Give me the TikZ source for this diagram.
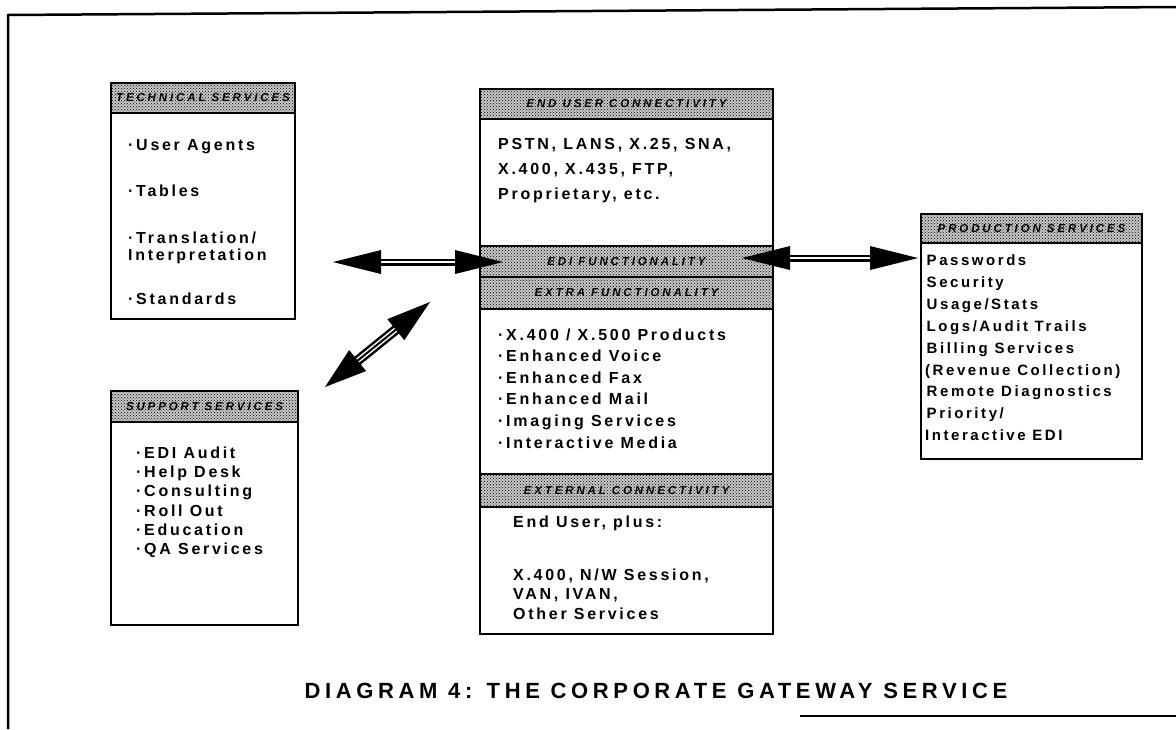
\documentclass[tikz,border=0pt]{standalone}
\usepackage{fontspec}
\setmainfont{Liberation Sans}
\newfontfamily\bodyfont[LetterSpace=17]{Liberation Sans}
\newfontfamily\hdrfont[LetterSpace=25]{Liberation Sans}
\newfontfamily\titlefont[LetterSpace=21]{Liberation Sans}
\usetikzlibrary{patterns,calc}

\tikzset{
  frameline/.style={line width=2.5pt},
  hdr/.style={draw, line width=2pt, fill=black!22, postaction={pattern=crosshatch dots},
    anchor=north west, inner sep=0pt,
    font=\hdrfont\bfseries\itshape\fontsize{11.5}{11.5}\selectfont},
  bodybox/.style={draw, line width=2pt, anchor=north west, inner sep=0pt},
  item/.style={anchor=base west, inner sep=0pt, font=\bodyfont\bfseries\fontsize{16}{16}\selectfont},
  pitem/.style={item, font=\bodyfont\bfseries\fontsize{15}{15}\selectfont},
  shaft/.style={line width=7pt},
  gap/.style={white, line width=2pt},
  head/.style={fill=black},
}

\begin{document}
\begin{tikzpicture}[x=1pt,y=-1pt]
\useasboundingbox (0,0) rectangle (1176,729);

% outer frame
\draw[frameline] (1176,7) -- (8,15) -- (8,729);
\draw[frameline] (800,716) -- (1176,716);

% ---------- technical services ----------
\node[hdr, minimum width=184pt, minimum height=30pt] (techhdr) at (110,82) {TECHNICAL SERVICES};
\node[bodybox, minimum width=184pt, minimum height=206pt] (techbody) at (110,112) {};
\node[item] (t1) at (128,150) {\textperiodcentered User Agents};
\node[item] (t2) at (128,196) {\textperiodcentered Tables};
\node[item] (t3) at (128,243) {\textperiodcentered Translation/};
\node[item] (t4) at (128,260) {Interpretation};
\node[item] (t5) at (128,304) {\textperiodcentered Standards};

% ---------- support services ----------
\node[hdr, minimum width=187pt, minimum height=31pt] (suphdr) at (110,390) {SUPPORT SERVICES};
\node[bodybox, minimum width=187pt, minimum height=203pt] (supbody) at (110,421) {};
\node[item] (s1) at (136,458) {\textperiodcentered EDI Audit};
\node[item] (s2) at (136,477) {\textperiodcentered Help Desk};
\node[item] (s3) at (136,496.5) {\textperiodcentered Consulting};
\node[item] (s4) at (136,516) {\textperiodcentered Roll Out};
\node[item] (s5) at (136,535) {\textperiodcentered Education};
\node[item] (s6) at (136,554) {\textperiodcentered QA Services};

% ---------- central column ----------
\node[hdr, minimum width=293pt, minimum height=30pt] (euhdr) at (479,88) {END USER CONNECTIVITY};
\node[bodybox, minimum width=293pt, minimum height=127pt] (eubody) at (479,118) {};
\node[item] (e1) at (498,149) {PSTN, LANS, X.25, SNA,};
\node[item] (e2) at (498,174) {X.400, X.435, FTP,};
\node[item] (e3) at (498,199) {Proprietary, etc.};

\node[hdr, minimum width=293pt, minimum height=31pt] (edihdr) at (479,245) {EDI FUNCTIONALITY};
\node[hdr, minimum width=293pt, minimum height=32pt] (xhdr) at (479,276) {EXTRA FUNCTIONALITY};
\node[bodybox, minimum width=293pt, minimum height=165pt] (xbody) at (479,308) {};
\node[item] (x1) at (498,340) {\textperiodcentered X.400 / X.500 Products};
\node[item] (x2) at (498,361.6) {\textperiodcentered Enhanced Voice};
\node[item] (x3) at (498,383.2) {\textperiodcentered Enhanced Fax};
\node[item] (x4) at (498,404.8) {\textperiodcentered Enhanced Mail};
\node[item] (x5) at (498,426.4) {\textperiodcentered Imaging Services};
\node[item] (x6) at (498,448) {\textperiodcentered Interactive Media};

\node[hdr, minimum width=293pt, minimum height=33pt] (exthdr) at (479,473) {EXTERNAL CONNECTIVITY};
\node[bodybox, minimum width=293pt, minimum height=127pt] (extbody) at (479,506) {};
\node[item] (c1) at (513,527) {End User, plus:};
\node[item] (c2) at (513,580) {X.400, N/W Session,};
\node[item] (c3) at (513,599) {VAN, IVAN,};
\node[item] (c4) at (513,619) {Other Services};

% ---------- production services ----------
\node[hdr, minimum width=221pt, minimum height=29pt] (prodhdr) at (920,213) {PRODUCTION SERVICES};
\node[bodybox, minimum width=221pt, minimum height=216pt] (prodbody) at (920,242) {};
\node[pitem] (p1) at (919,265) {\textperiodcentered Passwords};
\node[pitem] (p2) at (919,287) {\textperiodcentered Security};
\node[pitem] (p3) at (919,309) {\textperiodcentered Usage/Stats};
\node[pitem] (p4) at (919,331) {\textperiodcentered Logs/Audit Trails};
\node[pitem] (p5) at (919,353) {\textperiodcentered Billing Services};
\node[pitem] (p6) at (925,375) {(Revenue Collection)};
\node[pitem] (p7) at (919,396) {\textperiodcentered Remote Diagnostics};
\node[pitem] (p8) at (919,418) {\textperiodcentered Priority/};
\node[pitem] (p9) at (925,440) {Interactive EDI};

% ---------- double-headed connectors ----------
\coordinate (la) at (333,262);
\coordinate (lb) at (503,262);
\draw[shaft] ($(la)!40pt!(lb)$) -- ($(lb)!40pt!(la)$);
\draw[gap] ($(la)!46pt!(lb)$) -- ($(lb)!46pt!(la)$);
\fill[head] (la) -- ($(la)!48pt!(lb)!12pt!90:(lb)$) -- ($(la)!48pt!(lb)!12pt!-90:(lb)$) -- cycle;
\fill[head] (lb) -- ($(lb)!48pt!(la)!12pt!90:(la)$) -- ($(lb)!48pt!(la)!12pt!-90:(la)$) -- cycle;

\coordinate (ra) at (742,258);
\coordinate (rb) at (918,258);
\draw[shaft] ($(ra)!40pt!(rb)$) -- ($(rb)!40pt!(ra)$);
\draw[gap] ($(ra)!46pt!(rb)$) -- ($(rb)!46pt!(ra)$);
\fill[head] (ra) -- ($(ra)!48pt!(rb)!12pt!90:(rb)$) -- ($(ra)!48pt!(rb)!12pt!-90:(rb)$) -- cycle;
\fill[head] (rb) -- ($(rb)!48pt!(ra)!12pt!90:(ra)$) -- ($(rb)!48pt!(ra)!12pt!-90:(ra)$) -- cycle;

\coordinate (da) at (325,387);
\coordinate (db) at (430,302);
\draw[line width=10pt] ($(da)!36pt!(db)$) -- ($(db)!36pt!(da)$);
\draw[draw=white, line width=1.5pt, double=black, double distance=2pt]
  ($(da)!40pt!(db)$) -- ($(db)!40pt!(da)$);
\fill[head] (da) -- ($(da)!42pt!(db)!13.5pt!90:(db)$) -- ($(da)!42pt!(db)!13.5pt!-90:(db)$) -- cycle;
\fill[head] (db) -- ($(db)!44pt!(da)!13.5pt!90:(da)$) -- ($(db)!44pt!(da)!13.5pt!-90:(da)$) -- cycle;

% ---------- caption ----------
\node[anchor=center, inner sep=0pt, font=\titlefont\bfseries\fontsize{22}{22}\selectfont] (title) at (656,691)
  {DIAGRAM 4: THE CORPORATE GATEWAY SERVICE};
\end{tikzpicture}
\end{document}
